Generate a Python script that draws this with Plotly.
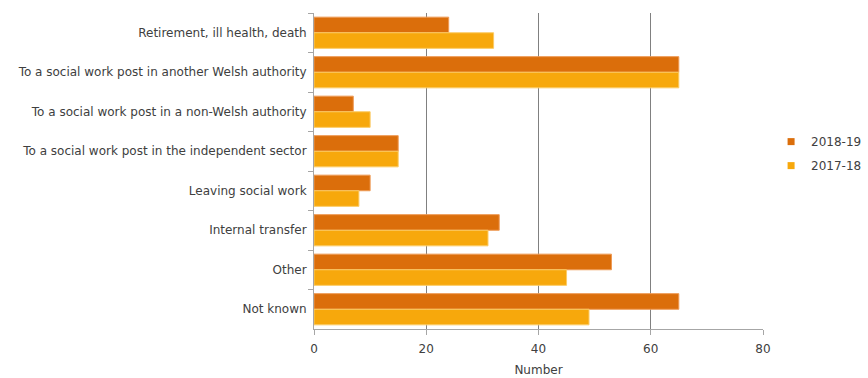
import plotly.graph_objects as go

categories = [
    "Retirement, ill health, death",
    "To a social work post in another Welsh authority",
    "To a social work post in a non-Welsh authority",
    "To a social work post in the independent sector",
    "Leaving social work",
    "Internal transfer",
    "Other",
    "Not known",
]
series_names = ["2018-19", "2017-18"]
values_2018_19 = [24, 65, 7, 15, 10, 33, 53, 65]
values_2017_18 = [32, 65, 10, 15, 8, 31, 45, 49]
x_ticks = [0, 20, 40, 60, 80]

colors = ["#DB6E0B", "#F7A80C"]
outline = ["#EE9A55", "#FBCB66"]

fig = go.Figure()
for name, vals, c, oc in zip(series_names, [values_2018_19, values_2017_18], colors, outline):
    fig.add_trace(go.Bar(
        y=categories, x=vals, name=name, orientation="h",
        marker=dict(color=c, line=dict(color=oc, width=1)),
        showlegend=False,
    ))
# legend-only entries with small square symbols
for name, c in zip(series_names, colors):
    fig.add_trace(go.Scatter(
        x=[None], y=[None], mode="markers", name=name, legendgroup=name,
        marker=dict(symbol="square", size=7, color=c),
    ))

fig.update_layout(
    width=868, height=378,
    margin=dict(l=314, r=105, t=13, b=49, autoexpand=False),
    barmode="group", bargap=0.21, bargroupgap=0,
    plot_bgcolor="white", paper_bgcolor="white",
    font=dict(family="DejaVu Sans, Verdana, sans-serif", size=12, color="#404040"),
    legend=dict(x=1.018, xref="paper", y=0.555, xanchor="left", yanchor="middle",
                font=dict(size=12, color="#404040"), itemwidth=30,
                traceorder="grouped", tracegroupgap=5, bgcolor="rgba(0,0,0,0)"),
    xaxis=dict(
        range=[0, 80], tickvals=x_ticks, ticktext=[str(v) for v in x_ticks],
        showgrid=True, gridcolor="#808080", gridwidth=1,
        showline=True, linecolor="#A6A6A6", linewidth=1,
        ticks="outside", ticklen=5, tickcolor="#A6A6A6",
        zeroline=False, ticklabelstandoff=4,
        title=dict(text="Number", font=dict(size=12, color="#404040"), standoff=10),
        tickfont=dict(size=12, color="#404040"),
    ),
    yaxis=dict(
        autorange="reversed", showline=True, linecolor="#A6A6A6", linewidth=1,
        ticks="outside", ticklen=5, tickcolor="#A6A6A6", tickson="boundaries",
        showgrid=False, ticklabelstandoff=4,
        tickfont=dict(size=12, color="#404040"),
    ),
    showlegend=True,
)

fig.write_html("out.html")
